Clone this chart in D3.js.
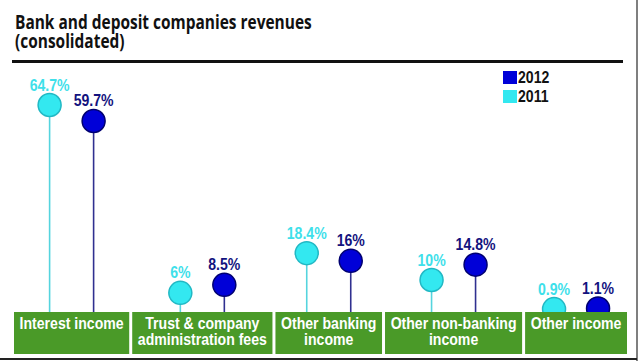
<!DOCTYPE html>
<html>
<head>
<meta charset="utf-8">
<script src="https://cdn.jsdelivr.net/npm/d3@7"></script>
<style>
  body { margin: 0; background: #fff; }
  svg { display: block; }
  .cond { font-family: "Liberation Sans", Arial, sans-serif; font-weight: bold; }
  .title { font-family: "Open Sans", "Noto Sans", sans-serif; font-weight: bold; }
</style>
</head>
<body>
<svg id="chart" width="640" height="361"></svg>
<script>
// data
var categories = [
    ["Interest income"],
    ["Trust & company", "administration fees"],
    ["Other banking", "income"],
    ["Other non-banking", "income"],
    ["Other income"]
];
var series = ["2011", "2012"];
var values2011 = [64.7, 6, 18.4, 10, 0.9];
var values2012 = [59.7, 8.5, 16, 14.8, 1.1];
var labels2011 = ["64.7%", "6%", "18.4%", "10%", "0.9%"];
var labels2012 = ["59.7%", "8.5%", "16%", "14.8%", "1.1%"];

var colors = {
    "2011": { fill: "#33e8f0", stroke: "#22b8c4", stem: "#55d4de", text: "#3ee0ea" },
    "2012": { fill: "#0000d8", stroke: "#000070", stem: "#303090", text: "#12127e" }
};

var SX = 0.88; // horizontal squeeze to fake a condensed face

var svg = d3.select("#chart");

// text helper: draws squeezed bold text anchored at x,y
function condText(g, x, y, str, size, anchor, fill) {
    return g.append("text").attr("class", "cond")
        .attr("transform", "translate(" + x + "," + y + ") scale(" + SX + ",1)")
        .attr("text-anchor", anchor || "start")
        .attr("font-size", size)
        .attr("fill", fill)
        .text(str);
}

// title
var title = svg.append("g").attr("class", "title").attr("fill", "#111");
var tl1 = title.append("text").attr("font-size", 20).text("Bank and deposit companies revenues");
var tl2 = title.append("text").attr("font-size", 20).text("(consolidated)");
var tsx = 297 / tl1.node().getComputedTextLength();
tl1.attr("transform", "translate(15,29) scale(" + tsx + ",1)");
tl2.attr("transform", "translate(15,48) scale(" + tsx + ",1)");

svg.append("line").attr("x1", 12).attr("x2", 623).attr("y1", 61.5).attr("y2", 61.5)
    .attr("stroke", "#111").attr("stroke-width", 3);

// frame pieces
svg.append("line").attr("x1", 637).attr("x2", 637).attr("y1", 0).attr("y2", 361)
    .attr("stroke", "#555").attr("stroke-width", 1.5);
svg.append("line").attr("x1", 0).attr("x2", 637).attr("y1", 359).attr("y2", 359)
    .attr("stroke", "#222").attr("stroke-width", 2);

// legend
var legend = svg.append("g");
["2012", "2011"].forEach(function(s, i) {
    legend.append("rect").attr("x", 503).attr("y", 71 + i * 19).attr("width", 14).attr("height", 13)
        .attr("fill", colors[s].fill);
    condText(legend, 518, 83 + i * 19, s, 16, "start", "#111");
});

// box widths follow the label widths
var boxLeft = 14, boxRight = 627, boxGap = 3, boxTop = 312, boxBottom = 354, catSize = 16;
var measure = svg.append("text").attr("class", "cond").attr("font-size", catSize);
var textW = categories.map(function(lines) {
    return SX * d3.max(lines, function(l) { measure.text(l); return measure.node().getComputedTextLength(); });
});
measure.remove();
var avail = boxRight - boxLeft - boxGap * (categories.length - 1);
var extra = (avail - d3.sum(textW)) / categories.length;
var boxes = [], cursor = boxLeft;
textW.forEach(function(w, i) {
    boxes.push({ x0: cursor, x1: cursor + w + extra, lines: categories[i] });
    cursor += w + extra + boxGap;
});

var y = d3.scaleLinear().domain([0, d3.max(values2011.concat(values2012))]).range([boxTop, 105]);
var offset = d3.scalePoint().domain(series).range([-22, 22]);
var r = 11.5;

var points = [];
boxes.forEach(function(b, i) {
    var cx = (b.x0 + b.x1) / 2;
    points.push({ s: "2011", x: cx + offset("2011"), v: values2011[i], label: labels2011[i] });
    points.push({ s: "2012", x: cx + offset("2012"), v: values2012[i], label: labels2012[i] });
});

var lolli = svg.append("g");
lolli.selectAll("line.stem").data(points).join("line")
    .attr("class", "stem")
    .attr("x1", function(d) { return d.x; }).attr("x2", function(d) { return d.x; })
    .attr("y1", function(d) { return y(d.v); }).attr("y2", boxTop)
    .attr("stroke", function(d) { return colors[d.s].stem; })
    .attr("stroke-width", 1.6);
lolli.selectAll("circle").data(points).join("circle")
    .attr("cx", function(d) { return d.x; })
    .attr("cy", function(d) { return y(d.v); })
    .attr("r", r)
    .attr("fill", function(d) { return colors[d.s].fill; })
    .attr("stroke", function(d) { return colors[d.s].stroke; })
    .attr("stroke-width", 1.5);
points.forEach(function(d) {
    condText(lolli, d.x, y(d.v) - r - 3, d.label, 16, "middle", colors[d.s].text);
});

// green category boxes (drawn over the circle bottoms)
var cat = svg.append("g").selectAll("g").data(boxes).join("g");
cat.append("rect")
    .attr("x", function(d) { return d.x0; })
    .attr("y", boxTop)
    .attr("width", function(d) { return d.x1 - d.x0; })
    .attr("height", boxBottom - boxTop)
    .attr("fill", "#4a9a28");
cat.each(function(d) {
    var g = d3.select(this);
    d.lines.forEach(function(l, j) {
        condText(g, (d.x0 + d.x1) / 2, 329 + j * 15.5, l, catSize, "middle", "#fff");
    });
});
</script>
</body>
</html>
